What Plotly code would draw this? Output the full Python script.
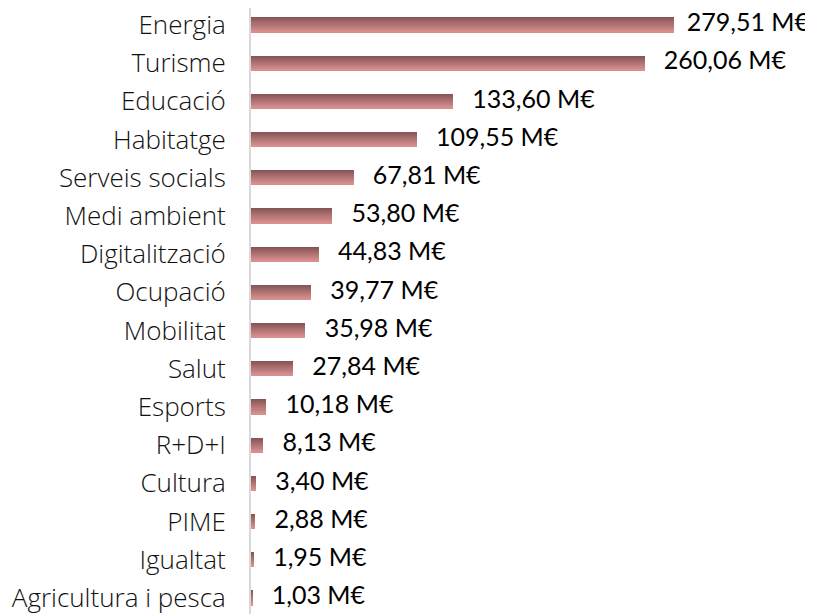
import plotly.graph_objects as go

categories = ["Energia", "Turisme", "Educació", "Habitatge", "Serveis socials",
              "Medi ambient", "Digitalització", "Ocupació", "Mobilitat", "Salut",
              "Esports", "R+D+I", "Cultura", "PIME", "Igualtat", "Agricultura i pesca"]
values = [279.51, 260.06, 133.60, 109.55, 67.81, 53.80, 44.83, 39.77, 35.98, 27.84,
          10.18, 8.13, 3.40, 2.88, 1.95, 1.03]
value_labels = ["279,51 M€", "260,06 M€", "133,60 M€", "109,55 M€", "67,81 M€",
                "53,80 M€", "44,83 M€", "39,77 M€", "35,98 M€", "27,84 M€",
                "10,18 M€", "8,13 M€", "3,40 M€", "2,88 M€", "1,95 M€", "1,03 M€"]

# vertical fill gradient of the bars (top dark -> bottom light), drawn as thin slices
top_rgb = (0x86, 0x55, 0x57)
bot_rgb = (0xd8, 0x90, 0x8e)
n_slices = 14
grad_colors = []
for k in range(n_slices):
    t = k / (n_slices - 1)
    r, g, b = (round(a + (c - a) * t) for a, c in zip(top_rgb, bot_rgb))
    grad_colors.append(f"rgb({r},{g},{b})")

bar_thick = 0.37
w = bar_thick / n_slices

fig = go.Figure()
for k, c in enumerate(grad_colors):
    fig.add_trace(go.Bar(
        x=values, y=categories, orientation="h",
        width=w * 1.15, offset=-bar_thick / 2 + k * w,
        marker=dict(color=c, line=dict(width=0)),
        hoverinfo="skip", showlegend=False,
    ))

vmax = max(values)
label_text = [("  " if v == vmax else "   ") + t for v, t in zip(values, value_labels)]
fig.add_trace(go.Scatter(
    x=values, y=categories, mode="text",
    text=label_text, textposition="middle right",
    textfont=dict(family="Lato, Open Sans, sans-serif", size=25, color="#000000"),
    showlegend=False, hoverinfo="skip", cliponaxis=False,
))

# the page body has an 8px margin, so the figure is sized/positioned to compensate
fig.update_layout(
    width=805, height=606,
    margin=dict(l=243, r=0, t=0, b=0),
    paper_bgcolor="white", plot_bgcolor="white",
    barmode="overlay", bargap=0,
    font=dict(family="Lato, Open Sans, sans-serif", size=24, color="#000000"),
    xaxis=dict(range=[0, 371.4], visible=False, showgrid=False, zeroline=False,
               automargin=False),
    yaxis=dict(
        type="category", categoryorder="array", categoryarray=categories,
        range=[15.42, -0.445], showgrid=False, zeroline=False,
        showline=True, linecolor="#d9d9d9", linewidth=2,
        ticks="", ticklabelstandoff=18, automargin=False,
        tickfont=dict(family="Open Sans, sans-serif", size=26, color="#111111",
                      weight=300),
    ),
)

fig.write_html("out.html")
